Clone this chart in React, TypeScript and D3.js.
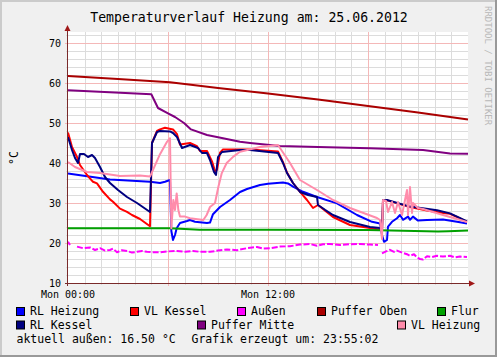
import React from 'react';
import * as d3 from 'd3';

type P = [number, number];

// time in hours since Mon 00:00, value in °C
const rlHeizung: P[] = [[0,37.4],[2.52,35.9],[4.92,35.3],[5.52,35.0],[5.82,35.3],[6.12,35.75],[6.2,23.0],[6.3,20.75],[6.42,22.0],[6.52,23.7],[6.72,25.0],[7.14,25.5],[7.32,25.75],[7.62,25.3],[8.34,25.0],[8.52,25.1],[8.7,27.2],[9.12,29.0],[9.72,30.75],[10.32,32.75],[10.74,33.5],[11.52,34.5],[12.0,34.8],[12.9,35.1],[13.2,34.9],[13.5,34.1],[14.1,32.8],[14.94,31.5],[16.14,29.9],[17.34,27.0],[18.24,25.3],[18.72,24.9],[18.84,22.0],[18.96,20.3],[19.14,20.75],[19.2,24.1],[19.44,25.3],[19.74,26.2],[19.92,27.0],[20.1,25.8],[20.4,26.6],[20.52,25.8],[20.7,26.6],[21.0,25.6],[21.54,25.75],[22.5,25.9],[23.34,25.3],[23.94,24.9]];
const vlKessel: P[] = [[0,47.6],[0.24,44.0],[0.54,41.5],[0.72,39.5],[1.14,37.0],[1.5,35.3],[1.74,34.9],[2.1,32.8],[2.52,30.9],[2.7,30.3],[3.12,28.6],[3.54,27.8],[3.84,27.0],[4.32,26.0],[4.92,24.2],[5.04,45.0],[5.34,48.0],[5.52,48.4],[5.82,48.8],[6.3,48.4],[6.54,47.2],[6.72,44.6],[7.32,45.0],[7.74,44.2],[7.92,43.0],[8.34,43.0],[8.64,40.4],[8.82,37.9],[8.94,38.3],[9.12,42.6],[9.3,43.4],[10.32,43.4],[10.92,43.4],[12.6,42.9],[12.9,40.2],[13.14,37.6],[13.5,35.0],[13.92,32.8],[14.34,30.75],[14.7,28.75],[15.0,29.5],[15.9,26.5],[16.92,24.5],[18.12,23.75],[18.72,23.3],[18.84,23.1],[18.9,30.7],[19.2,30.6],[20.52,29.0],[21.54,28.1],[22.5,27.5],[22.92,27.3],[23.34,26.5],[23.94,25.3]];
const aussen: P[] = [[0,20.3],[0.12,19.5],[0.3,NaN],[0.54,19.1],[0.9,18.7],[1.32,18.9],[1.62,18.25],[1.92,18.7],[2.22,18.1],[2.52,18.25],[2.7,18.6],[2.94,17.7],[3.24,18.2],[3.54,18.0],[3.84,17.6],[4.14,17.8],[4.44,18.0],[4.74,17.8],[5.1,17.7],[5.52,17.7],[6.0,17.9],[6.54,18.0],[7.02,17.8],[7.5,18.0],[7.92,17.8],[8.52,17.8],[9.0,18.1],[9.54,18.4],[10.14,18.2],[10.74,18.7],[11.34,19.0],[11.7,18.6],[12.12,18.7],[12.72,19.1],[13.32,19.2],[13.92,19.6],[14.52,19.75],[14.94,19.3],[15.3,19.7],[15.72,19.75],[16.32,19.5],[16.92,19.7],[17.52,19.75],[18.12,19.6],[18.6,19.5],[18.72,NaN],[18.84,17.4],[19.08,17.9],[19.32,18.3],[19.56,17.8],[19.74,18.1],[20.1,17.5],[20.34,17.2],[20.52,16.8],[20.76,17.2],[20.94,16.4],[21.12,16.0],[21.3,15.9],[21.54,16.7],[21.84,16.5],[22.14,16.8],[22.5,16.6],[22.92,16.8],[23.22,16.4],[23.52,16.6],[23.94,16.5]];
const pufferOben: P[] = [[0,61.75],[3,61.0],[6.12,60.2],[7.5,59.5],[9,58.75],[12,57.4],[15,55.85],[18,54.25],[21,52.6],[24,50.9]];
const flur: P[] = [[0,23.7],[6.1,23.7],[7.9,23.3],[12,23.3],[18,23.25],[22.2,22.85],[22.8,22.95],[24,23.1]];
const rlKessel: P[] = [[0,46.5],[0.24,43.25],[0.42,41.25],[0.6,40.0],[0.72,42.25],[0.96,42.25],[1.2,41.5],[1.44,42.0],[1.62,41.25],[1.92,39.0],[2.22,36.5],[2.52,35.0],[3.0,33.25],[3.54,31.5],[4.14,30.0],[4.92,27.75],[5.04,45.0],[5.34,47.75],[5.52,48.0],[6.12,47.9],[6.3,47.5],[6.54,46.5],[6.84,43.75],[7.32,44.5],[7.8,43.75],[8.04,42.5],[8.34,42.5],[8.52,40.75],[8.76,37.75],[8.88,37.0],[9.0,41.5],[9.24,42.75],[10.32,43.25],[10.92,43.25],[12.6,42.5],[12.9,40.0],[13.14,37.5],[13.5,35.0],[13.92,32.75],[14.4,32.0],[14.94,31.5],[15.0,29.5],[15.42,28.3],[15.9,27.0],[16.92,25.25],[18.12,24.0],[18.72,23.75],[18.84,23.25],[18.9,30.75],[19.14,30.75],[20.52,29.1],[22.14,28.2],[22.92,27.4],[23.34,26.6],[23.94,25.4]];
const pufferMitte: P[] = [[0,58.2],[2.5,57.7],[5.0,57.2],[5.4,53.75],[6.0,52.4],[6.42,51.5],[6.96,50.0],[7.38,48.4],[8.34,47.0],[9.3,46.2],[10.32,45.3],[10.92,45.0],[12.72,44.25],[15,44.0],[18.12,43.7],[21.3,43.25],[22.92,42.4],[24,42.3]];
const vlHeizung: P[] = [[0,40.25],[0.42,39.0],[1.14,37.75],[1.92,37.5],[3.12,36.75],[4.32,36.9],[4.92,36.6],[5.1,38.3],[5.52,42.2],[5.94,45.3],[6.12,46.2],[6.2,23.7],[6.32,30.75],[6.42,28.25],[6.52,32.4],[6.62,28.25],[6.72,26.6],[7.02,26.6],[7.32,26.2],[8.12,25.75],[8.32,27.0],[8.52,29.0],[8.82,30.0],[9.02,34.0],[9.22,37.4],[9.52,40.0],[9.92,41.6],[10.32,42.8],[11.52,44.0],[12.6,44.5],[13.32,40.0],[13.92,35.75],[14.94,33.25],[15.9,30.75],[16.92,28.75],[18.54,26.25],[18.72,25.75],[18.84,21.0],[18.9,30.75],[19.08,30.5],[19.2,27.75],[19.44,30.25],[19.62,27.5],[19.8,30.25],[20.04,27.0],[20.22,30.75],[20.34,33.25],[20.4,27.0],[20.52,34.0],[20.64,27.5],[20.7,30.0],[21.0,28.75],[21.3,28.5],[22.5,27.0],[22.92,26.5],[23.94,25.25]];

const seriesNames = ['RL Heizung','VL Kessel','Außen','Puffer Oben','Flur','RL Kessel','Puffer Mitte','VL Heizung'];
const seriesData = [rlHeizung, vlKessel, aussen, pufferOben, flur, rlKessel, pufferMitte, vlHeizung];
const xTickLabels = ['Mon 00:00','Mon 12:00'];
const xTickHours = [0, 12];
const yTicks = [10,20,30,40,50,60,70];
const titleText = 'Temperaturverlauf Heizung am: 25.06.2012';
const unitText = '°C';
const footerLeft = 'aktuell außen: 16.50 °C';
const footerRight = 'Grafik erzeugt um: 23:55:02';
const watermark = 'RRDTOOL / TOBI OETIKER';

const colors = ['#0000FF','#FF0000','#FF00FF','#AA0000','#00A000','#000080','#800080','#FF8CAB'];

export default function App() {
  const W = 497, H = 357;
  const X0 = 68, X1 = 468, Y0 = 283, Y1 = 32;
  const x = d3.scaleLinear().domain([0, 24]).range([X0, X1]);
  const y = d3.scaleLinear().domain([10, 72.75]).range([Y0, Y1]);
  const line = d3.line<P>().defined(d => !isNaN(d[1])).x(d => x(d[0])).y(d => y(d[1]));
  const minorY = d3.range(12, 73, 2).filter(v => v % 10 !== 0);
  const minorX = d3.range(1, 24, 1).filter(v => v % 6 !== 0);
  const majorX = [6, 12, 18];
  const font = 'DejaVu Sans Mono';
  const axisColor = '#7a2a2a';
  const legendPos: [number, number][] = [[16,307],[130,307],[237,307],[317,307],[437,307],[16,320.5],[197,320.5],[397,320.5]];

  return (
    <svg width={W} height={H} style={{ position: 'absolute', left: 0, top: 0 }} fontFamily={font}>
      <rect x={0} y={0} width={W} height={H} fill="#F0F0F0" />
      <rect x={0} y={0} width={W} height={2} fill="#CBCBCB" />
      <rect x={0} y={0} width={2} height={H} fill="#CBCBCB" />
      <rect x={0} y={H - 2} width={W} height={2} fill="#999999" />
      <rect x={W - 2} y={0} width={2} height={H} fill="#999999" />
      <rect x={X0} y={Y1} width={X1 - X0} height={Y0 - Y1} fill="#FFFFFF" />
      {minorY.map(v => (
        <line key={'my' + v} x1={X0 - 2} x2={X1} y1={Math.round(y(v)) + 0.5} y2={Math.round(y(v)) + 0.5} stroke="#DCDCDC" strokeWidth={1} />
      ))}
      {minorX.map(v => (
        <line key={'mx' + v} x1={Math.round(x(v)) + 0.5} x2={Math.round(x(v)) + 0.5} y1={Y1} y2={Y0 + 2} stroke="#DCDCDC" strokeWidth={1} />
      ))}
      {yTicks.map(v => (
        <line key={'My' + v} x1={X0 - 3} x2={X1} y1={Math.round(y(v)) + 0.5} y2={Math.round(y(v)) + 0.5} stroke="#F4B8B8" strokeWidth={1} />
      ))}
      {majorX.map(v => (
        <line key={'Mx' + v} x1={Math.round(x(v)) + 0.5} x2={Math.round(x(v)) + 0.5} y1={Y1} y2={Y0 + 3} stroke="#F4B8B8" strokeWidth={1} />
      ))}
      {seriesData.map((d, i) => (
        <path key={seriesNames[i]} d={line(d) || ''} fill="none" stroke={colors[i]} strokeWidth={2}
          strokeLinejoin="round" strokeDasharray={i === 2 ? '6 2' : undefined} />
      ))}
      {/* axes */}
      <line x1={X0 - 0.5} x2={X0 - 0.5} y1={Y0 + 3} y2={Y1 - 3} stroke={axisColor} strokeWidth={1} />
      <line x1={X0 - 3} x2={X1 + 2} y1={Y0 + 0.5} y2={Y0 + 0.5} stroke={axisColor} strokeWidth={1} />
      <path d={`M${X0 - 3.5},${Y1 - 1} L${X0 - 0.5},${Y1 - 7} L${X0 + 2.5},${Y1 - 1} Z`} fill="#A01818" />
      <path d={`M${X1 + 1},${Y0 - 2.5} L${X1 + 7},${Y0 + 0.5} L${X1 + 1},${Y0 + 3.5} Z`} fill="#A01818" />
      {yTicks.map(v => (
        <text key={'yl' + v} x={61} y={y(v) + 3.6} textAnchor="end" fontSize={10} fill="#000">{v}</text>
      ))}
      {xTickHours.map((h, i) => (
        <text key={'xl' + h} x={x(h)} y={298} textAnchor="middle" fontSize={10} fill="#000">{xTickLabels[i]}</text>
      ))}
      <text x={249} y={21.5} textAnchor="middle" fontSize={13.2} fill="#000">{titleText}</text>
      <text transform="translate(18,158) rotate(-90)" textAnchor="middle" fontSize={11.5} fill="#000">{unitText}</text>
      <text transform="translate(485,6) rotate(90)" textAnchor="start" fontSize={9} fill="#B8B8B8">{watermark}</text>
      {seriesNames.map((n, i) => (
        <g key={'lg' + n}>
          <rect x={legendPos[i][0] + 0.5} y={legendPos[i][1] + 0.5} width={8} height={8} fill={colors[i]} stroke="#000" strokeWidth={1} />
          <text x={legendPos[i][0] + 14} y={legendPos[i][1] + 8.3} fontSize={11.5} fill="#000">{n}</text>
        </g>
      ))}
      <text x={16.5} y={343} fontSize={11.5} fill="#000">{footerLeft}</text>
      <text x={191.5} y={343} fontSize={11.5} fill="#000">{footerRight}</text>
    </svg>
  );
}
